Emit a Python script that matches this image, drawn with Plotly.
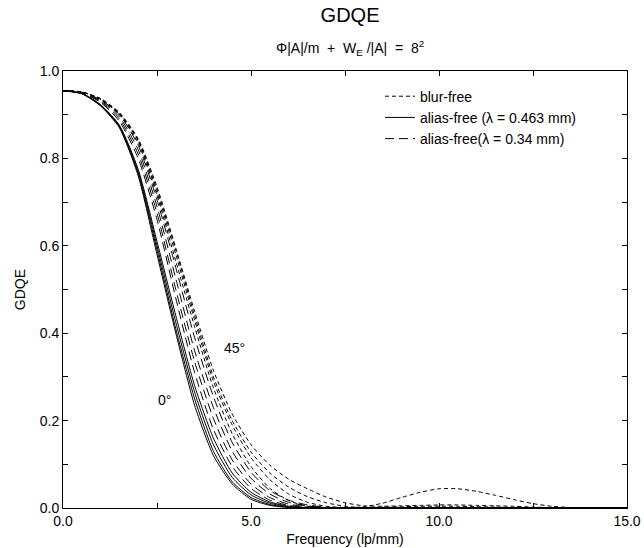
import plotly.graph_objects as go

# frequency grid (lp/mm) for the main-lobe readings
freq = [0, 0.5, 1, 1.5, 2, 2.5, 3, 3.5, 4, 4.5, 5, 5.5, 6, 6.5, 7, 7.5, 8]
freq_full = freq + [8.5, 9, 9.5, 10, 10.5, 11, 11.5, 12, 12.5, 13, 13.5, 14, 14.5, 15]

# alias-free, lambda = 0.463 mm (solid), angles 0,15,30,45 deg
s0 = [0.955, 0.948, 0.920, 0.870, 0.760, 0.580, 0.400, 0.235, 0.120, 0.055, 0.020, 0.006, 0.001, 0, 0, 0, 0]
s15 = [0.955, 0.948, 0.921, 0.872, 0.765, 0.590, 0.410, 0.250, 0.130, 0.060, 0.024, 0.008, 0.002, 0, 0, 0, 0]
s30 = [0.955, 0.949, 0.922, 0.874, 0.770, 0.600, 0.425, 0.265, 0.145, 0.070, 0.030, 0.011, 0.003, 0, 0, 0, 0]
s45 = [0.955, 0.949, 0.923, 0.876, 0.775, 0.610, 0.440, 0.280, 0.160, 0.080, 0.036, 0.014, 0.004, 0.001, 0, 0, 0]

# alias-free, lambda = 0.34 mm (long dash)
l0 = [0.955, 0.950, 0.928, 0.885, 0.800, 0.660, 0.480, 0.310, 0.180, 0.095, 0.045, 0.018, 0.006, 0.002, 0, 0, 0]
l15 = [0.955, 0.950, 0.930, 0.890, 0.810, 0.675, 0.500, 0.335, 0.205, 0.110, 0.055, 0.024, 0.009, 0.003, 0.001, 0, 0]
l30 = [0.955, 0.951, 0.932, 0.895, 0.820, 0.690, 0.525, 0.360, 0.230, 0.130, 0.068, 0.032, 0.013, 0.005, 0.001, 0, 0]
l45 = [0.955, 0.951, 0.934, 0.900, 0.830, 0.705, 0.550, 0.390, 0.255, 0.150, 0.082, 0.040, 0.018, 0.007, 0.002, 0, 0]

# blur-free (short dash), full range
b0 = [0.955, 0.952, 0.935, 0.900, 0.835, 0.715, 0.565, 0.415, 0.275, 0.170, 0.095, 0.045, 0.017, 0.004, 0.0, 0.0, 0.003,
      0.011, 0.024, 0.036, 0.044, 0.044, 0.038, 0.029, 0.019, 0.010, 0.004, 0.001, 0, 0, 0]
b15 = [0.955, 0.952, 0.936, 0.902, 0.840, 0.722, 0.580, 0.430, 0.290, 0.190, 0.115, 0.065, 0.032, 0.013, 0.004, 0.001, 0,
       0, 0, 0, 0, 0, 0, 0, 0, 0, 0, 0, 0, 0, 0]
b30 = [0.955, 0.952, 0.936, 0.904, 0.842, 0.728, 0.590, 0.440, 0.300, 0.200, 0.128, 0.080, 0.048, 0.026, 0.012, 0.004, 0.001,
       0.002, 0.003, 0.004, 0.004, 0.004, 0.003, 0.002, 0.001, 0, 0, 0, 0, 0, 0]
b45 = [0.955, 0.952, 0.937, 0.905, 0.845, 0.735, 0.595, 0.450, 0.315, 0.215, 0.145, 0.098, 0.066, 0.044, 0.025, 0.012, 0.005,
       0.004, 0.005, 0.006, 0.007, 0.007, 0.006, 0.005, 0.004, 0.002, 0.001, 0, 0, 0, 0]

x_ticks = [0, 5, 10, 15]
x_labels = ["0.0", "5.0", "10.0", "15.0"]
y_ticks = [0, 0.2, 0.4, 0.6, 0.8, 1.0]
y_labels = ["0.0", "0.2", "0.4", "0.6", "0.8", "1.0"]

FONT = "Liberation Sans, Arial, Helvetica, sans-serif"
SP = "\u00a0\u00a0"

fig = go.Figure()

def add(xs, ys, dash, name, show):
    fig.add_trace(go.Scatter(
        x=xs, y=ys, mode="lines", name=name, showlegend=show,
        line=dict(color="black", width=1, dash=dash, shape="spline", smoothing=0.6),
        hoverinfo="skip"))

full_ext = lambda arr: arr + [0] * (len(freq_full) - len(arr))

BF_DASH = "4px,3px"
L_DASH = "9px,5px"

add(freq_full, b0, BF_DASH, "blur-free", True)
add(freq_full, b15, BF_DASH, "blur-free", False)
add(freq_full, b30, BF_DASH, "blur-free", False)
add(freq_full, b45, BF_DASH, "blur-free", False)
add(freq_full, full_ext(s0), "solid", "alias-free (λ = 0.463 mm)", True)
add(freq_full, full_ext(s15), "solid", "alias-free (λ = 0.463 mm)", False)
add(freq_full, full_ext(s30), "solid", "alias-free (λ = 0.463 mm)", False)
add(freq_full, full_ext(s45), "solid", "alias-free (λ = 0.463 mm)", False)
add(freq_full, full_ext(l0), L_DASH, "alias-free(λ = 0.34 mm)", True)
add(freq_full, full_ext(l15), L_DASH, "alias-free(λ = 0.34 mm)", False)
add(freq_full, full_ext(l30), L_DASH, "alias-free(λ = 0.34 mm)", False)
add(freq_full, full_ext(l45), L_DASH, "alias-free(λ = 0.34 mm)", False)

axis_common = dict(
    showline=True, linecolor="black", linewidth=1, mirror="ticks",
    ticks="inside", ticklen=5, tickcolor="black", showgrid=False, zeroline=False,
    tickfont=dict(family=FONT, size=14, color="black"), automargin=False,
)

subtitle = ("Φ|A|/m" + SP + "+" + SP + "W<sub>E</sub>" + "\u00a0" + "/|A|" + SP + "=" + SP + "8<sup>2</sup>")

fig.update_layout(
    width=644, height=548,
    margin=dict(l=63, r=17, t=71, b=40, autoexpand=False),
    paper_bgcolor="white", plot_bgcolor="white",
    font=dict(family=FONT, color="black"),
    title=dict(text="GDQE", xref="paper", x=0.509, xanchor="center", y=0.972, yanchor="middle",
               font=dict(family=FONT, size=20, color="black")),
    xaxis=dict(range=[0, 15], tickvals=x_ticks, ticktext=x_labels,
               minor=dict(tickvals=[2.5, 7.5, 12.5], ticks="inside", ticklen=5, tickcolor="black"),
               title=dict(text="Frequency (lp/mm)", font=dict(family=FONT, size=14), standoff=6),
               **axis_common),
    yaxis=dict(range=[0, 1.0], tickvals=y_ticks, ticktext=y_labels,
               minor=dict(tickvals=[0.1, 0.3, 0.5, 0.7, 0.9], ticks="inside", ticklen=5, tickcolor="black"),
               title=dict(text="GDQE", font=dict(family=FONT, size=14), standoff=10),
               **axis_common),
    legend=dict(x=0.562, y=0.978, xanchor="left", yanchor="top", bgcolor="rgba(0,0,0,0)",
                font=dict(family=FONT, size=14, color="black"), tracegroupgap=0,
                itemwidth=30),
    annotations=[
        dict(text=subtitle, xref="paper", yref="paper",
             x=0.509, y=1.0, yshift=23, showarrow=False, xanchor="center", yanchor="middle",
             font=dict(family=FONT, size=14, color="black")),
        dict(text="0°", x=2.71, y=0.247, xref="x", yref="y", showarrow=False,
             font=dict(family=FONT, size=14, color="black")),
        dict(text="45°", x=4.55, y=0.366, xref="x", yref="y", showarrow=False,
             font=dict(family=FONT, size=14, color="black")),
    ],
)

fig.write_html("out.html")
